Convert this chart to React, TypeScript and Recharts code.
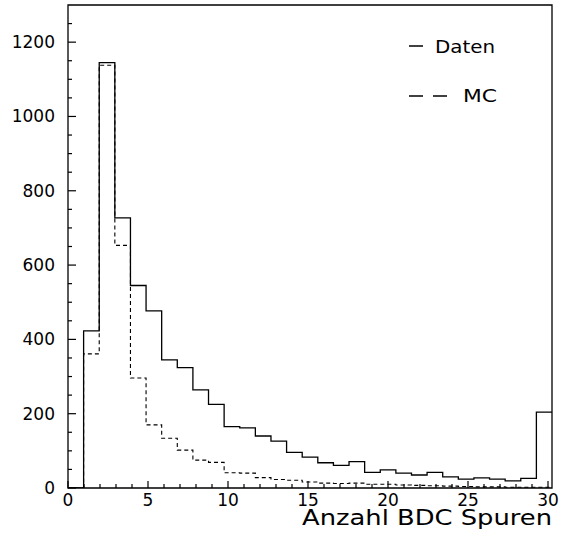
import React from 'react';
import { LineChart, Line, XAxis, YAxis, ReferenceArea, Legend } from 'recharts';

// bin edges of the histogram (31 bins of width 1)
const binEdges = [0, 1, 2, 3, 4, 5, 6, 7, 8, 9, 10, 11, 12, 13, 14, 15, 16, 17, 18, 19, 20, 21, 22, 23, 24, 25, 26, 27, 28, 29, 30, 31];
const daten = [0, 423, 1145, 727, 545, 477, 345, 324, 264, 225, 165, 162, 140, 126, 96, 83, 68, 61, 71, 42, 49, 40, 35, 42, 30, 24, 27, 24, 19, 26, 204];
const mc = [0, 361, 1138, 653, 296, 170, 134, 102, 75, 69, 41, 40, 28, 23, 21, 16, 13, 12, 13, 10, 10, 8, 7, 6, 5, 4, 3, 3, 2, 2, 2];

const xTicks = [0, 1, 2, 3, 4, 5, 6, 7, 8, 9, 10, 11, 12, 13, 14, 15, 16, 17, 18, 19, 20, 21, 22, 23, 24, 25, 26, 27, 28, 29, 30];
const yTicks = [0, 50, 100, 150, 200, 250, 300, 350, 400, 450, 500, 550, 600, 650, 700, 750, 800, 850, 900, 950, 1000, 1050, 1100, 1150, 1200, 1250];

const xTitle = 'Anzahl BDC Spuren';
const FONT = '"DejaVu Sans", sans-serif';

// stepAfter needs one point per left edge plus a closing point at the last edge
const rows = binEdges.map((x, i) => ({
  x,
  daten: i < daten.length ? daten[i] : daten[daten.length - 1],
  mc: i < mc.length ? mc[i] : mc[mc.length - 1],
}));

const YTick = (props: any) => {
  const { x, y, payload } = props;
  const major = payload.value % 200 === 0;
  return (
    <g>
      <line x1={x} x2={x + (major ? 8 : 4)} y1={y} y2={y} stroke="#000" strokeWidth={1.2} />
      {major && (
        <text x={x - 13} y={y + 6} textAnchor="end" fontSize={17} fontFamily={FONT} fill="#000">
          {payload.value}
        </text>
      )}
    </g>
  );
};

const XTick = (props: any) => {
  const { x, y, payload } = props;
  const major = payload.value % 5 === 0;
  return (
    <g>
      <line x1={x} x2={x} y1={y} y2={y - (major ? 7 : 4)} stroke="#000" strokeWidth={1.2} />
      {major && (
        <text x={x} y={y + 18} textAnchor="middle" fontSize={17} fontFamily={FONT} fill="#000">
          {payload.value}
        </text>
      )}
    </g>
  );
};

const LegendBox = () => (
  <svg width={120} height={90}>
    <line x1={9} x2={23} y1={21} y2={21} stroke="#000" strokeWidth={1.5} />
    <text x={35} y={28} fontSize={18} fontFamily={FONT} textLength={60} lengthAdjust="spacingAndGlyphs">Daten</text>
    <line x1={9} x2={23} y1={71} y2={71} stroke="#000" strokeWidth={1.5} />
    <line x1={33} x2={47} y1={71} y2={71} stroke="#000" strokeWidth={1.5} />
    <text x={63} y={77} fontSize={18} fontFamily={FONT} textLength={34} lengthAdjust="spacingAndGlyphs">MC</text>
  </svg>
);

const TitleLabel = (props: any) => {
  const { viewBox } = props;
  const right = viewBox.x + viewBox.width;
  return (
    <text x={right} y={525} textAnchor="end" fontSize={21} fontFamily={FONT} fill="#000" textLength={250} lengthAdjust="spacingAndGlyphs">
      {xTitle}
    </text>
  );
};

export default function App() {
  return (
    <div style={{ position: 'absolute', left: 0, top: 0, background: '#fff' }}>
      <LineChart width={562} height={539} data={rows} margin={{ top: 5, right: 10, bottom: 21, left: 8 }}>
        <XAxis
          xAxisId="ticks"
          dataKey="x"
          type="number"
          domain={() => [0, 30.25]}
          ticks={xTicks}
          allowDataOverflow
          interval={0}
          height={30}
          tickSize={0}
          tickMargin={0}
          axisLine={false}
          tickLine={false}
          tick={<XTick />}
          label={<TitleLabel />}
        />
        <XAxis xAxisId="bins" dataKey="x" type="number" domain={[0, 31]} allowDataOverflow hide height={0} />
        <YAxis
          type="number"
          domain={[0, 1300]}
          ticks={yTicks}
          allowDataOverflow
          interval={0}
          width={60}
          tickSize={0}
          tickMargin={0}
          axisLine={false}
          tickLine={false}
          tick={<YTick />}
        />
        <ReferenceArea xAxisId="bins" x1={0} x2={31} y1={0} y2={1300} fill="none" stroke="#000" strokeWidth={1.3} ifOverflow="visible" />
        <Line xAxisId="bins" type="stepAfter" dataKey="mc" stroke="#000" strokeWidth={1.1} strokeDasharray="4 3" dot={false} isAnimationActive={false} />
        <Line xAxisId="bins" type="stepAfter" dataKey="daten" stroke="#000" strokeWidth={1.3} dot={false} isAnimationActive={false} />
        <Legend
          layout="vertical"
          align="center"
          verticalAlign="middle"
          content={<LegendBox />}
          wrapperStyle={{ top: 25, left: 400, width: 120, height: 90 }}
        />
      </LineChart>
    </div>
  );
}
